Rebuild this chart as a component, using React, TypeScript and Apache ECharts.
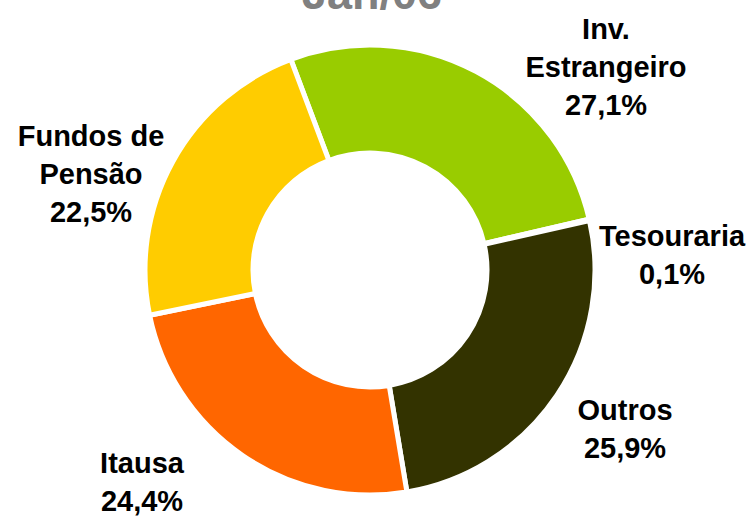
import React, { useEffect, useRef } from "react";
import * as echarts from "echarts";

const titleText = "Jan/06";
const categories = ["Inv.\nEstrangeiro", "Tesouraria", "Outros", "Itausa", "Fundos de\nPensão"];
const shares = [27.1, 0.1, 25.9, 24.4, 22.5];
const colors = ["#99CC00", "#99CC00", "#333300", "#FF6600", "#FFCC00"];
// label block centres (layout, not data)
const labelCenters: [number, number][] = [
  [606, 67],
  [672, 255],
  [625, 429],
  [142, 482],
  [91, 174],
];

export default function App() {
  const ref = useRef<HTMLDivElement>(null);
  useEffect(() => {
    if (!ref.current) return;
    const chart = echarts.init(ref.current, undefined, { renderer: "svg" });
    chart.setOption({
      animation: false,
      backgroundColor: "#ffffff",
      graphic: [
        {
          type: "text",
          x: 372,
          y: -7,
          style: {
            text: titleText,
            fill: "#808080",
            font: "bold 45px 'Liberation Sans', Arial, sans-serif",
            align: "center",
            verticalAlign: "middle",
          },
        },
      ],
      series: [
        {
          type: "pie",
          center: [370, 270],
          radius: [117, 225],
          startAngle: 110.6,
          clockwise: true,
          avoidLabelOverlap: false,
          minShowLabelAngle: 0,
          itemStyle: { borderColor: "#ffffff", borderWidth: 5 },
          label: {
            show: true,
            position: "outside",
            color: "#000000",
            fontFamily: "'Liberation Sans', Arial, sans-serif",
            fontWeight: "bold",
            fontSize: 29,
            lineHeight: 38,
            align: "center",
            formatter: (p: any) => `${p.name}\n${p.value.toFixed(1).replace(".", ",")}%`,
          },
          labelLine: { show: false },
          labelLayout: (params: any) => {
            const c = labelCenters[params.dataIndex];
            return { x: c[0], y: c[1], align: "center", verticalAlign: "middle" };
          },
          emphasis: { disabled: true },
          data: categories.map((name, i) => ({
            name,
            value: shares[i],
            itemStyle: { color: colors[i] },
          })),
        },
      ],
    });
    return () => chart.dispose();
  }, []);
  return (
    <div
      ref={ref}
      style={{ position: "absolute", left: 0, top: 0, width: 754, height: 516 }}
    />
  );
}
